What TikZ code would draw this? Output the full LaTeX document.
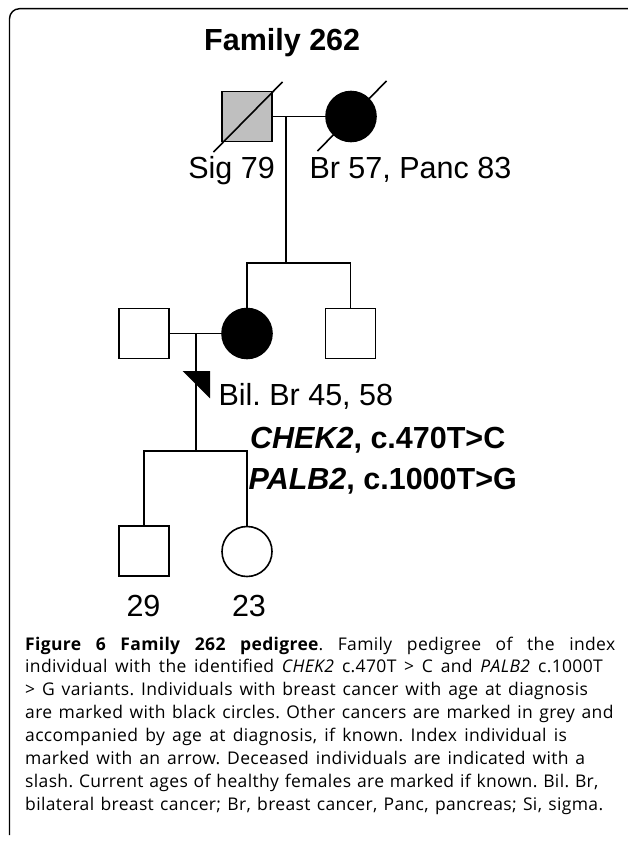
\documentclass[tikz,border=0pt]{standalone}
\usepackage{fontspec}
\setmainfont{Liberation Sans}
\newfontfamily\capfont[LetterSpace=2]{Open Sans}
\newcommand{\capline}[2]{\makebox[#1pt][s]{#2}}
\begin{document}
\frenchspacing
\begin{tikzpicture}[x=1pt,y=-1pt,
  ln/.style={line width=1.6pt, line cap=rect},
  male/.style={draw, line width=1.6pt, minimum size=50pt, inner sep=0pt, outer sep=0pt},
  female/.style={draw, circle, line width=1.6pt, minimum size=50pt, inner sep=0pt, outer sep=0pt},
  lbl/.style={inner sep=0pt, font=\fontsize{30.5}{36}\selectfont},
  blbl/.style={inner sep=0pt, font=\fontsize{30.5}{36}\selectfont\bfseries},
  captext/.style={inner sep=0pt, align=left, font=\capfont\fontsize{17.5}{22.9}\selectfont\frenchspacing}]
\useasboundingbox (0,0) rectangle (627,845);
% frame
\draw[line width=1.4pt, rounded corners=10pt] (630,8.7) -- (9.5,8.7) -- (9.5,835);
% title
\node[blbl, anchor=base] (title) at (282.2,50.7) {Family 262};
% generation I
\node[male, fill=gray!50] (I1) at (247,116.5) {};
\node[female, fill=black] (I2) at (351,116.5) {};
\draw[ln] (I1.center) ++(-33,35) -- ++(68,-69);
\draw[ln] (I2.center) ++(-33,34) -- ++(68,-69);
\coordinate (d1) at (285.7,116.5);
\coordinate (s1) at (285.7,263);
\draw[ln] (I1.east) -- (I2.west);
\draw[ln] (d1) -- (s1);
% generation II
\node[male] (II1) at (143.8,333.5) {};
\node[female, fill=black] (II2) at (247,333.5) {};
\node[male] (II3) at (350.5,333.5) {};
\draw[ln] (II2.north) -- (II2.north |- s1) -- (II3.north |- s1) -- (II3.north);
\draw[ln] (II1.east) -- (II2.west);
\coordinate (d2) at (196,333.5);
\coordinate (s2) at (196,451);
\draw[ln] (d2) -- (s2);
\fill (182.7,371) -- (210,371) -- (210,398.3) -- cycle;
% generation III
\node[male] (III1) at (143.8,551) {};
\node[female] (III2) at (247,551.5) {};
\draw[ln] (III1.north) -- (III1.north |- s2) -- (III2.north |- s2) -- (III2.north);
% labels
\node[lbl, anchor=base east] (l1) at (275,178.3) {Sig 79};
\node[lbl, anchor=base west] (l2) at (309.3,178.3) {Br 57, Panc 83};
\node[lbl, anchor=base west] (l3) at (218.3,405.7) {Bil. Br 45, 58};
\node[blbl, anchor=base west] (l4) at (250,448.5) {\textit{CHEK2}, c.470T>C};
\node[blbl, anchor=base west] (l5) at (248.5,489) {\textit{PALB2}, c.1000T>G};
\node[lbl, anchor=base] (l6) at (143.5,616.7) {29};
\node[lbl, anchor=base] (l7) at (249,616.7) {23};
% caption
\node[captext, anchor=base west] (caption) at (25,810.3) {%
\capline{590}{\textbf{Figure 6 Family 262 pedigree}. Family pedigree of the index}\\
\capline{577.7}{individual with the identified \textit{CHEK2} c.470T > C and \textit{PALB2} c.1000T}\\
\capline{562.7}{> G variants. Individuals with breast cancer with age at diagnosis}\\
\capline{588.3}{are marked with black circles. Other cancers are marked in grey and}\\
\capline{541.7}{accompanied by age at diagnosis, if known. Index individual is}\\
\capline{560}{marked with an arrow. Deceased individuals are indicated with a}\\
\capline{573.3}{slash. Current ages of healthy females are marked if known. Bil. Br,}\\
\capline{578}{bilateral breast cancer; Br, breast cancer, Panc, pancreas; Si, sigma.}};
\end{tikzpicture}
\end{document}
